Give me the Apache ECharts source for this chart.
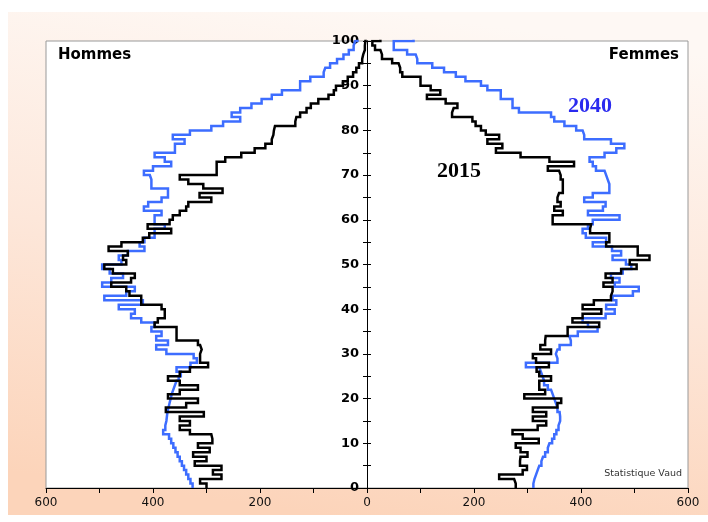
<!DOCTYPE html>
<html>
<head>
<meta charset="utf-8">
<title>Pyramide des âges Vaud 2015 / 2040</title>
<script src="https://cdn.jsdelivr.net/npm/echarts/dist/echarts.min.js"></script>
<style>
  html, body { margin: 0; padding: 0; background: #fff; }
  #chart { width: 708px; height: 522px; }
</style>
</head>
<body>
<div id="chart"></div>
<script>
// effectifs par âge (0 à 100 ans)
var hommes2015 = [300,312,272,288,272,322,300,325,294,316,
    289,291,331,350,331,350,305,376,338,316,
    372,350,316,350,372,350,331,297,312,312,
    309,312,316,356,356,356,397,391,378,378,
    384,422,422,444,450,478,441,434,475,491,
    450,456,447,483,459,419,407,366,410,369,
    363,350,338,334,291,313,270,306,334,350,
    281,281,281,265,235,210,190,178,175,174,
    172,134,132,125,113,105,91,72,62,58,
    45,36,26,20,15,9,7,4,4,3,
    2];
var hommes2040 = [326,330,334,338,342,346,350,354,358,362,
    366,370,381,377,375,374,373,371,369,367,
    365,362,359,356,352,348,356,330,318,324,
    375,394,372,394,384,403,397,422,441,434,
    464,419,491,450,434,495,478,456,481,495,
    459,464,447,416,425,416,397,397,378,397,
    397,384,417,409,384,372,372,403,403,406,
    417,400,366,378,397,359,359,341,363,331,
    291,269,237,253,237,216,197,178,159,125,
    125,106,81,78,69,56,44,34,25,22,
    18];
var femmes2015 = [278,275,247,291,299,286,287,300,287,278,
    321,291,272,319,335,310,335,310,356,363,
    294,333,322,322,344,322,317,340,316,310,
    344,324,333,334,375,375,434,384,403,438,
    403,424,456,459,459,442,459,446,475,504,
    491,528,506,506,447,453,453,417,419,347,
    347,366,350,362,356,359,366,366,366,362,
    359,338,387,341,287,241,253,225,247,222,
    213,203,197,159,162,169,147,112,137,119,
    100,100,66,62,59,47,28,25,15,10,
    25];
var femmes2040 = [311,313,316,319,322,326,329,333,338,341,
    346,350,354,358,361,361,360,356,353,350,
    347,344,338,331,328,325,322,297,356,353,
    356,360,381,378,394,431,413,403,446,463,
    447,466,459,497,508,463,472,456,478,494,
    484,459,475,458,422,447,409,403,413,422,
    472,413,441,446,406,422,453,453,450,447,
    444,428,422,416,444,466,481,456,406,403,
    391,369,350,344,284,272,272,250,250,225,
    213,184,166,144,122,94,91,75,50,50,
    87];

var ageLabels = [0, 10, 20, 30, 40, 50, 60, 70, 80, 90, 100];
var popLabels = [0, 200, 400, 600];

var bleu = '#3d6dff';
var noir = '#000000';

// chaque âge devient une marche : [valeur, âge] puis [valeur, âge + 1]
function marches(values, sens) {
    var pts = [];
    values.forEach(function (v, age) {
        pts.push([sens * v, age]);
        pts.push([sens * v, age + 1]);
    });
    return pts;
}

function serie(nom, values, sens, couleur) {
    return {
        name: nom,
        type: 'line',
        data: marches(values, sens),
        showSymbol: false,
        symbol: 'none',
        clip: true,
        lineStyle: { color: couleur, width: 2.5, join: 'miter' },
        emphasis: { disabled: true }
    };
}

var myChart = echarts.init(document.getElementById('chart'), null, { renderer: 'canvas' });

// largeur du graphique : 708 - 46 - 20 = 642, l'axe des âges est au milieu
var demiLargeur = 321;

var axeAge = {
    type: 'value',
    min: 0,
    max: 100,
    interval: 5,
    offset: -demiLargeur,
    splitLine: { show: false },
    axisLine: { show: true, onZero: false, lineStyle: { color: '#000', width: 1 } },
    axisTick: { show: true, length: 4, lineStyle: { color: '#000' } }
};

var option = {
    backgroundColor: '#fff',
    animation: false,
    graphic: [{
        type: 'rect',
        z: -10,
        silent: true,
        shape: { x: 8, y: 12, width: 700, height: 503 },
        style: {
            fill: new echarts.graphic.LinearGradient(0.55, 0, 0.45, 1, [
                { offset: 0, color: '#fef8f4' },
                { offset: 0.5, color: '#fde7da' },
                { offset: 1, color: '#fcd4ba' }
            ])
        }
    }, {
        type: 'text', x: 58, y: 55, z: 10,
        style: { text: 'Hommes', font: 'bold 15px "DejaVu Sans"', fill: '#000', align: 'left', verticalAlign: 'middle' }
    }, {
        type: 'text', x: 679, y: 55, z: 10,
        style: { text: 'Femmes', font: 'bold 15px "DejaVu Sans"', fill: '#000', align: 'right', verticalAlign: 'middle' }
    }, {
        type: 'text', x: 568, y: 106, z: 10,
        style: { text: '2040', font: 'bold 22px "Liberation Serif"', fill: '#2a2aef', align: 'left', verticalAlign: 'middle' }
    }, {
        type: 'text', x: 437, y: 171, z: 10,
        style: { text: '2015', font: 'bold 22px "Liberation Serif"', fill: '#000', align: 'left', verticalAlign: 'middle' }
    }, {
        type: 'text', x: 682, y: 474, z: 10,
        style: { text: 'Statistique Vaud', font: '9.5px "DejaVu Sans"', fill: '#333', align: 'right', verticalAlign: 'middle' }
    }],
    grid: {
        left: 46,
        right: 20,
        top: 41,
        bottom: 34,
        show: true,
        backgroundColor: '#fff',
        borderColor: '#999',
        borderWidth: 1
    },
    xAxis: {
        type: 'value',
        min: -600,
        max: 600,
        interval: 100,
        splitLine: { show: false },
        axisLine: { show: true, onZero: false, lineStyle: { color: '#000', width: 1 } },
        axisTick: { show: true, length: 5, lineStyle: { color: '#000' } },
        axisLabel: {
            margin: 9,
            color: '#111',
            fontFamily: 'DejaVu Sans',
            fontSize: 12,
            formatter: function (v) {
                var a = Math.abs(v);
                return popLabels.indexOf(a) >= 0 ? String(a) : '';
            }
        }
    },
    yAxis: [
        Object.assign({}, axeAge, {
            position: 'left',
            axisLabel: {
                margin: 8,
                color: '#000',
                fontFamily: 'DejaVu Sans',
                fontWeight: 'bold',
                fontSize: 13,
                formatter: function (v) {
                    return ageLabels.indexOf(v) >= 0 ? String(v) : '';
                }
            }
        }),
        Object.assign({}, axeAge, {
            position: 'right',
            axisLabel: { show: false }
        })
    ],
    series: [
        serie('Hommes 2040', hommes2040, -1, bleu),
        serie('Femmes 2040', femmes2040, 1, bleu),
        serie('Hommes 2015', hommes2015, -1, noir),
        serie('Femmes 2015', femmes2015, 1, noir)
    ]
};

myChart.setOption(option);
</script>
</body>
</html>
